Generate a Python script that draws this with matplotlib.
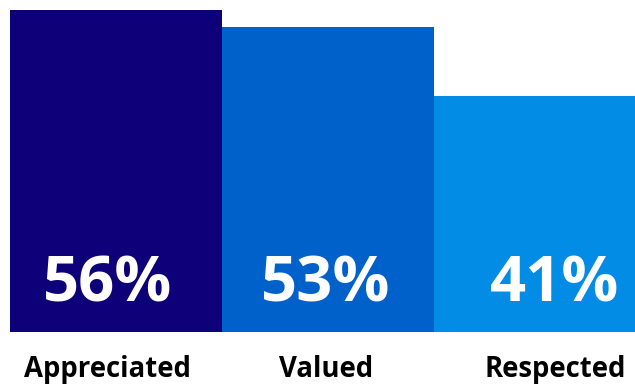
import matplotlib.pyplot as plt

# data
categories = ["Appreciated", "Valued", "Respected"]
values = [56, 53, 41]
colors = ["#0E0078", "#0061CB", "#038CE6"]

plt.rcParams['font.family'] = ['Open Sans', 'DejaVu Sans']

fig = plt.figure(figsize=(6.35, 3.85), dpi=100)
ax = fig.add_axes([10 / 635, (385 - 331.7) / 385, 625 / 635, (331.7 - 10) / 385])

x = range(len(categories))
ax.bar(x, values, width=1.0, color=colors, align='center')
ax.set_xlim(-0.5, 2.448)
ax.set_ylim(0, max(values))
ax.axis('off')

# small horizontal nudges so text sits like in the original
nudge = [-0.04, -0.01, 0.07]
for i, (cat, v) in enumerate(zip(categories, values)):
    ax.annotate(f"{v}%", (i + nudge[i], 0), xytext=(0, 30), textcoords='offset pixels',
                ha='center', va='baseline', color='white', fontsize=45.5, fontweight='bold')
    ax.annotate(cat, (i + nudge[i], 0), xytext=(0, -45), textcoords='offset pixels',
                ha='center', va='baseline', color='black', fontsize=19.8, fontweight='bold',
                annotation_clip=False)

fig.savefig("out.png", dpi=100)
